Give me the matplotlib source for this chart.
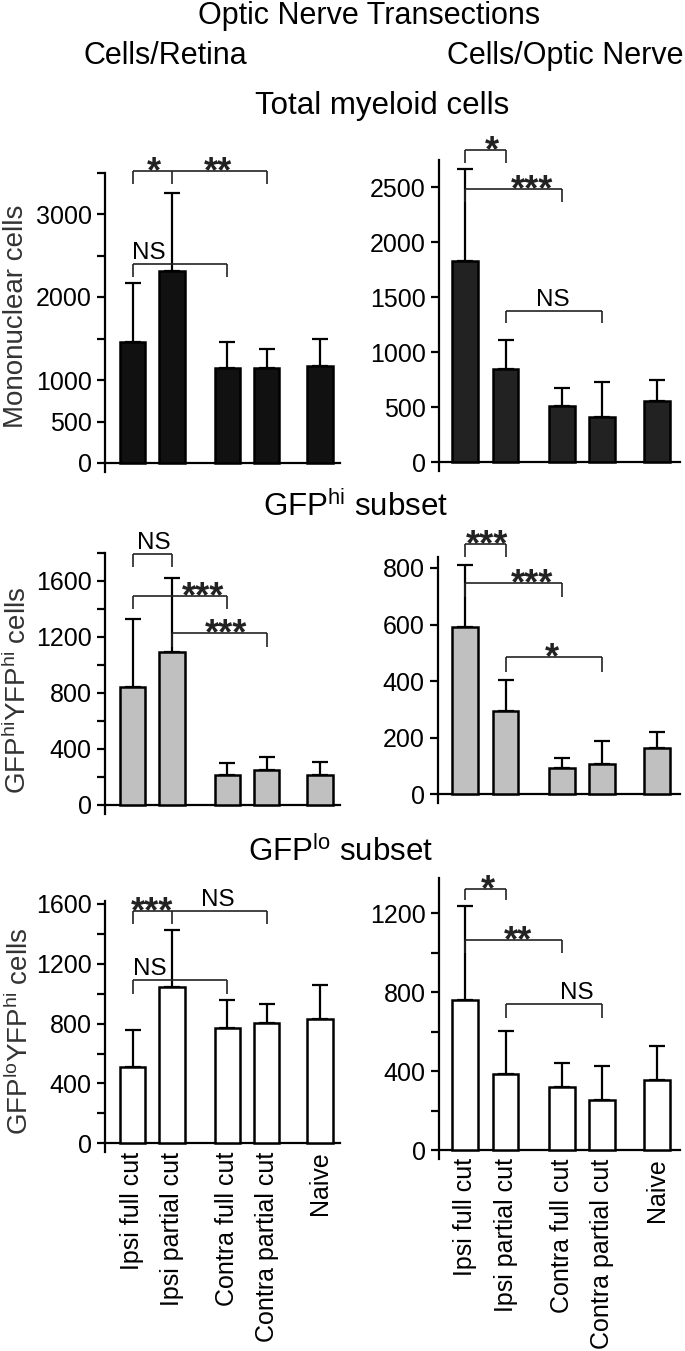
import matplotlib
matplotlib.use('Agg')
import matplotlib.pyplot as plt
from matplotlib.ticker import FixedLocator, FuncFormatter
import numpy as np

plt.rcParams['font.family'] = ['Liberation Sans', 'DejaVu Sans']
plt.rcParams['mathtext.fontset'] = 'custom'
plt.rcParams['mathtext.rm'] = 'Liberation Sans'
plt.rcParams['mathtext.default'] = 'regular'

# ---------------- data ----------------
categories = ['Ipsi full cut', 'Ipsi partial cut', 'Contra full cut',
              'Contra partial cut', 'Naive']

retina_total_mean = [1462, 2317, 1148, 1148, 1173]
retina_total_err = [703, 940, 306, 222, 321]
nerve_total_mean = [1833, 845, 515, 415, 560]
nerve_total_err = [833, 267, 158, 312, 191]

retina_hi_mean = [845, 1091, 212, 248, 212]
retina_hi_err = [484, 533, 86, 97, 97]
nerve_hi_mean = [590, 294, 92, 107, 165]
nerve_hi_err = [220, 110, 35, 82, 56]

retina_lo_mean = [511, 1048, 770, 806, 828]
retina_lo_err = [246, 375, 186, 128, 232]
nerve_lo_mean = [760, 384, 319, 253, 357]
nerve_lo_err = [477, 219, 124, 173, 170]

# ---------------- layout ----------------
W, H = 685, 1351
fig = plt.figure(figsize=(W / 100, H / 100), dpi=100)
xpos = np.array([0, 1, 2.4, 3.4, 4.75])

TICK_FS = 18
NS_FS = 17.5
STAR_FS = 26
LW = 1.6


def make_ax(left, right, zero, top, ymax, x0px, unit, ticks, labeled):
    ext = 9
    scale = (zero - top) / ymax
    ax = fig.add_axes([left / W, 1 - (zero + ext) / H,
                       (right - left) / W, (zero + ext - top) / H])
    ax.set_ylim(-ext / scale, ymax)
    ax.set_xlim((left - x0px) / unit, (right - x0px) / unit)
    ax.spines['top'].set_visible(False)
    ax.spines['right'].set_visible(False)
    ax.spines['bottom'].set_position(('data', 0))
    ax.spines['left'].set_linewidth(LW)
    ax.spines['bottom'].set_linewidth(LW)
    ax.yaxis.set_major_locator(FixedLocator(ticks))
    ax.yaxis.set_major_formatter(FuncFormatter(
        lambda v, p: ('%d' % round(v)) if any(abs(v - l) < 1e-6 for l in labeled) else ''))
    ax.tick_params(axis='y', length=5.5, width=LW, labelsize=TICK_FS, pad=4,
                   colors='black')
    ax.tick_params(axis='x', length=0, labelsize=18, pad=6)
    ax.set_xticks(xpos)
    ax.set_xticklabels([])
    return ax


def draw_bars(ax, mean, err, color):
    ax.bar(xpos, mean, width=0.64, color=color, edgecolor='black',
           linewidth=1.8, zorder=3)
    ax.errorbar(xpos, mean, yerr=[np.zeros(len(mean)), err], fmt='none',
                ecolor='black', elinewidth=LW, capsize=6, capthick=LW, zorder=2)


def bracket(ax, legs, y, ybot, labels):
    xs = xpos[legs]
    ax.plot([xs.min(), xs.max()], [y, y], color='#222222', lw=1.2,
            clip_on=False, zorder=4, solid_capstyle='butt')
    for x in xs:
        ax.plot([x, x], [y, ybot], color='#222222', lw=1.2, clip_on=False,
                zorder=4, solid_capstyle='butt')
    for txt, lx in labels:
        if txt == 'NS':
            ax.annotate(txt, xy=(lx, y), xycoords='data', textcoords='offset points',
                        xytext=(0, 3.6), ha='center', va='baseline',
                        fontsize=NS_FS, annotation_clip=False)
        else:
            ax.annotate(txt, xy=(lx, y), xycoords='data', textcoords='offset points',
                        xytext=(0, -8.0), ha='center', va='baseline',
                        fontsize=STAR_FS, fontweight='bold', color='#222222',
                        annotation_clip=False)


# Left panels: x0 at 132.5 px, 39.5 px per unit; right: 465.3 px, 40.3 px/unit
ax1 = make_ax(105, 340, 463, 172.5, 3500, 132.5, 39.5,
              [0, 500, 1000, 1500, 2000, 2500, 3000, 3500], [0, 500, 1000, 2000, 3000])
draw_bars(ax1, retina_total_mean, retina_total_err, '#111111')
bracket(ax1, [0, 1, 3], 3518, 3358, [('*', 0.54), ('**', 2.16)])
bracket(ax1, [0, 2], 2394, 2237, [('NS', 0.42)])

ax2 = make_ax(439, 680, 462.3, 160, 2750, 465.3, 40.3,
              [0, 500, 1000, 1500, 2000, 2500], [0, 500, 1000, 1500, 2000, 2500])
draw_bars(ax2, nerve_total_mean, nerve_total_err, '#222222')
bracket(ax2, [0, 1], 2839, 2727, [('*', 0.66)])
bracket(ax2, [0, 2], 2482, 2365, [('***', 1.66)])
bracket(ax2, [1, 3], 1378, 1264, [('NS', 2.18)])

ax3 = make_ax(105, 340, 805, 553, 1800, 132.5, 39.5,
              list(range(0, 1801, 200)), [0, 400, 800, 1200, 1600])
draw_bars(ax3, retina_hi_mean, retina_hi_err, '#c0c0c0')
bracket(ax3, [0, 1], 1793, 1698, [('NS', 0.53)])
bracket(ax3, [0, 2], 1493, 1400, [('***', 1.78)])
bracket(ax3, [1, 3], 1226, 1131, [('***', 2.38)])

ax4 = make_ax(438, 680, 794.3, 556.6, 840, 465.3, 40.3,
              [0, 200, 400, 600, 800], [0, 200, 400, 600, 800])
draw_bars(ax4, nerve_hi_mean, nerve_hi_err, '#c0c0c0')
bracket(ax4, [0, 1], 883, 838, [('***', 0.53)])
bracket(ax4, [0, 2], 745, 696, [('***', 1.65)])
bracket(ax4, [1, 3], 486, 433, [('*', 2.14)])

ax5 = make_ax(105, 340, 1143.3, 901, 1620, 132.5, 39.5,
              list(range(0, 1601, 200)), [0, 400, 800, 1200, 1600])
draw_bars(ax5, retina_lo_mean, retina_lo_err, 'white')
bracket(ax5, [0, 1, 3], 1554, 1465, [('***', 0.49), ('NS', 2.17)])
bracket(ax5, [0, 2], 1091, 1000, [('NS', 0.43)])

ax6 = make_ax(439, 680, 1150, 877.5, 1380, 465.3, 40.3,
              list(range(0, 1201, 200)), [0, 400, 800, 1200])
draw_bars(ax6, nerve_lo_mean, nerve_lo_err, 'white')
bracket(ax6, [0, 1], 1323, 1267, [('*', 0.57)])
bracket(ax6, [0, 2], 1061, 997, [('**', 1.32)])
bracket(ax6, [1, 3], 738, 667, [('NS', 2.76)])

for ax in (ax5, ax6):
    ax.set_xticklabels(categories, rotation=90, va='top', ha='center')

# ---------------- texts ----------------
def ftext(xp, yp, s, **kw):
    fig.text(xp / W, 1 - yp / H, s, ha='center', va='center', **kw)

ftext(369, 16, 'Optic Nerve Transections', fontsize=22)
ftext(165, 56, 'Cells/Retina', fontsize=22)
ftext(565, 56, 'Cells/Optic Nerve', fontsize=22)
ftext(382, 106, 'Total myeloid cells', fontsize=22.5)
ftext(355, 507, 'GFP$^{hi}$ subset', fontsize=22.5)
ftext(340, 852, 'GFP$^{lo}$ subset', fontsize=22.5)

ftext(16, 316, 'Mononuclear cells', fontsize=20, rotation=90, color='#333333')
ftext(18, 690, 'GFP$^{hi}$YFP$^{hi}$ cells', fontsize=20, rotation=90, color='#333333')
ftext(20, 1031, 'GFP$^{lo}$YFP$^{hi}$ cells', fontsize=20, rotation=90, color='#333333')

fig.savefig('out.png', dpi=100)
